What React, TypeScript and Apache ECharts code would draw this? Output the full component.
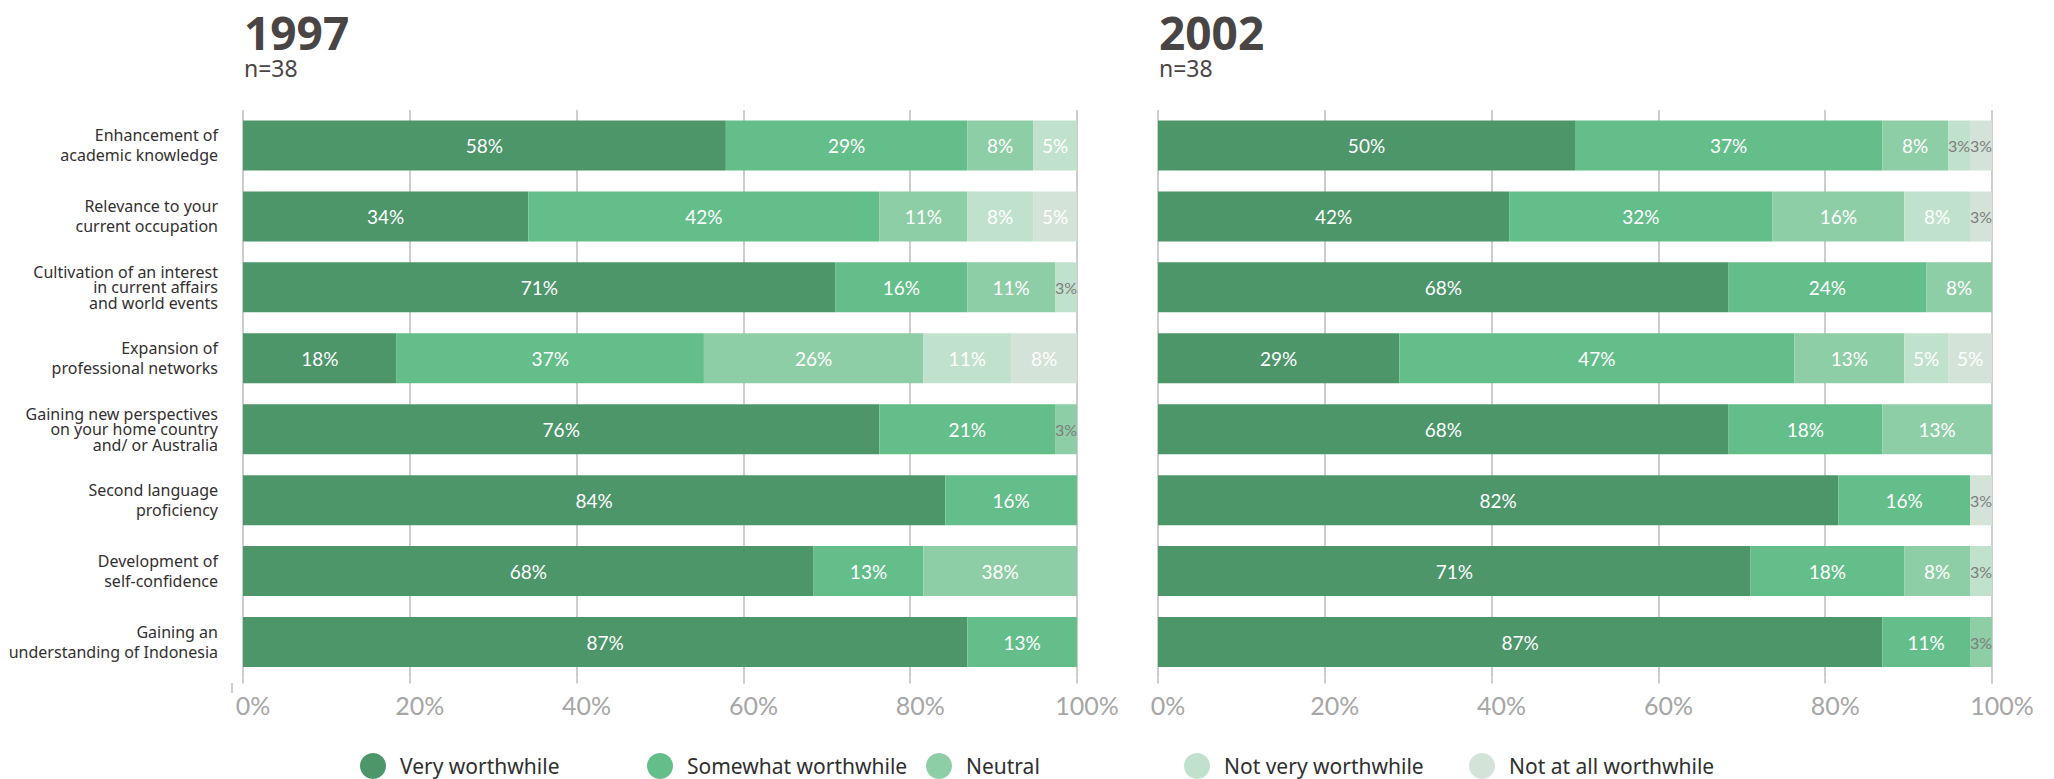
import React, { useEffect, useRef } from "react";
import * as echarts from "echarts";

// Survey respondents (n=38 in both years)
const respondents = 38;
const years = ["1997", "2002"];
const levels = [
  "Very worthwhile",
  "Somewhat worthwhile",
  "Neutral",
  "Not very worthwhile",
  "Not at all worthwhile",
];
const levelColors = ["#4c966a", "#63be8a", "#8ecea6", "#c0e2cc", "#d3e3d8"];
const categories = [
  "Enhancement of\nacademic knowledge",
  "Relevance to your\ncurrent occupation",
  "Cultivation of an interest\nin current affairs\nand world events",
  "Expansion of\nprofessional networks",
  "Gaining new perspectives\non your home country\nand/ or Australia",
  "Second language\nproficiency",
  "Development of\nself-confidence",
  "Gaining an\nunderstanding of Indonesia",
];
const xTicks = [0, 20, 40, 60, 80, 100];

// Respondent counts per answer (out of 38), read from the printed percentages / bar widths
const very1997 = [22, 13, 27, 7, 29, 32, 26, 33];
const somewhat1997 = [11, 16, 6, 14, 8, 6, 5, 5];
const neutral1997 = [3, 4, 4, 10, 1, 0, 7, 0];
const notVery1997 = [2, 3, 1, 4, 0, 0, 0, 0];
const notAtAll1997 = [0, 2, 0, 3, 0, 0, 0, 0];

const very2002 = [19, 16, 26, 11, 26, 31, 27, 33];
const somewhat2002 = [14, 12, 9, 18, 7, 6, 7, 4];
const neutral2002 = [3, 6, 3, 5, 5, 0, 3, 1];
const notVery2002 = [1, 3, 0, 2, 0, 0, 1, 0];
const notAtAll2002 = [1, 1, 0, 2, 0, 1, 0, 0];

// Label printed in the original that differs from its bar width
const labelOverrides: Record<string, string> = { "1997|Neutral|6": "38%" };

const seriesByYear = [
  [very1997, somewhat1997, neutral1997, notVery1997, notAtAll1997],
  [very2002, somewhat2002, neutral2002, notVery2002, notAtAll2002],
];

const gridLefts = [243, 1158];
const legendLefts = [360, 647, 926, 1184, 1469];

export default function App() {
  const ref = useRef<HTMLDivElement>(null);

  useEffect(() => {
    document.body.style.margin = "0";
    if (!ref.current) return;
    const chart = echarts.init(ref.current, undefined, { renderer: "svg" });

    const grids = gridLefts.map((left) => ({
      left,
      width: 834,
      top: 110,
      height: 567.5,
      containLabel: false,
    }));

    const gridLine = { color: "#cdcdcd", width: 2 };

    const xAxes = years.map((_, gi) => ({
      type: "value",
      gridIndex: gi,
      min: 0,
      max: 100,
      interval: 20,
      axisLine: { show: false },
      axisTick: { show: true, length: 6, lineStyle: gridLine },
      splitLine: { show: true, lineStyle: gridLine },
      axisLabel: {
        formatter: (v: number) => (xTicks.includes(v) ? v + "%" : ""),
        color: "#a6a6a6",
        fontSize: 25,
        fontFamily: "Lato",
        margin: 15,
        padding: [0, 0, 0, 20],
      },
    }));

    const yAxes = years.map((_, gi) => ({
      type: "category",
      gridIndex: gi,
      inverse: true,
      data: categories,
      axisLine: { show: false },
      axisTick: { show: false },
      axisLabel: {
        show: gi === 0,
        margin: 25,
        align: "right",
        formatter: (v: string) => {
          const lines = v.split("\n");
          const key = lines.length > 2 ? "t3" : "t2";
          return lines.map((l) => `{${key}|${l}}`).join("\n");
        },
        rich: {
          t2: { fontSize: 16, lineHeight: 20, color: "#333030", fontFamily: "Noto Sans", align: "right" },
          t3: { fontSize: 16, lineHeight: 15.5, color: "#333030", fontFamily: "Noto Sans", align: "right" },
        },
      },
    }));

    const series: any[] = [];
    years.forEach((year, gi) => {
      levels.forEach((level, li) => {
        const counts = seriesByYear[gi][li];
        series.push({
          type: "bar",
          name: level,
          stack: "s" + year,
          xAxisIndex: gi,
          yAxisIndex: gi,
          barWidth: 50,
          itemStyle: { color: levelColors[li] },
          data: counts.map((c, i) => {
            const pct = (c / respondents) * 100;
            const small = pct < 4;
            const override = labelOverrides[`${year}|${level}|${i}`];
            return {
              value: pct,
              label: {
                show: c > 0,
                position: "inside",
                formatter: override ?? Math.round(pct) + "%",
                color: small ? "#7d7d7d" : "#ffffff",
                fontSize: small ? 16 : 19,
                fontFamily: "Lato",
              },
            };
          }),
        });
      });
    });

    const legends = levels.map((level, i) => ({
      data: [level],
      left: legendLefts[i],
      top: 753,
      padding: 0,
      icon: "circle",
      itemWidth: 26,
      itemHeight: 26,
      itemGap: 10,
      selectedMode: false,
      textStyle: {
        fontSize: 21,
        color: "#2f2f2f",
        fontFamily: "Noto Sans",
        padding: [0, 0, 0, 9],
      },
    }));

    const graphic: any[] = [];
    years.forEach((year, gi) => {
      graphic.push({
        type: "text",
        left: gridLefts[gi] + 1,
        top: 9,
        style: {
          text: year,
          font: 'bold 46px "Noto Sans"',
          fill: "#4a4545",
        },
      });
      graphic.push({
        type: "text",
        left: gridLefts[gi] + 1,
        top: 56,
        style: {
          text: "n=" + respondents,
          font: '23px "Noto Sans"',
          fill: "#4a4545",
        },
      });
    });
    graphic.push({
      type: "line",
      shape: { x1: 232, y1: 683, x2: 232, y2: 693 },
      style: { stroke: "#cdcdcd", lineWidth: 2 },
    });

    chart.setOption({
      animation: false,
      backgroundColor: "#ffffff",
      grid: grids,
      xAxis: xAxes,
      yAxis: yAxes,
      legend: legends,
      series,
      graphic,
    });

    return () => chart.dispose();
  }, []);

  return <div ref={ref} style={{ width: 2054, height: 779 }} />;
}
